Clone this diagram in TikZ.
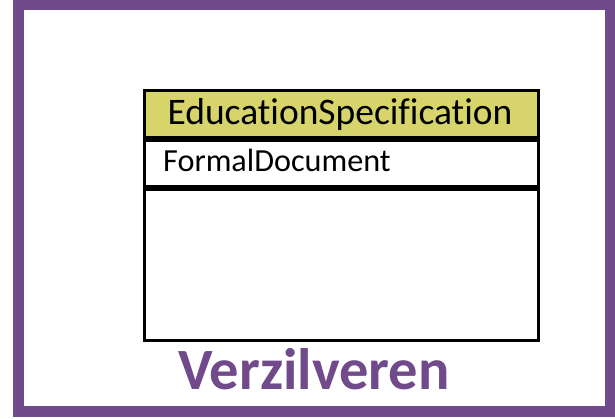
\documentclass[tikz,border=0pt]{standalone}
\usepackage{fontspec}
\setmainfont[Ligatures=NoCommon]{Carlito}
\definecolor{framepurple}{RGB}{112,74,138}
\definecolor{headyellow}{RGB}{214,212,106}
\begin{document}
\begin{tikzpicture}[x=1pt,y=-1pt,
  comp/.style={draw=black, line width=3pt, inner sep=0pt, minimum width=394pt, anchor=north west},
  sep/.style={draw=black, line width=4.5pt}]
\useasboundingbox (0,0) rectangle (615,419);
\fill[white] (0,0) rectangle (615,419);
\draw[framepurple, line width=10.5pt] (18.5,5) rectangle (610.5,411.5);
% class box
\node[comp, fill=headyellow, minimum height=47.5pt] (head) at (143,89) {};
\node[comp, fill=white, minimum height=49pt] (attr) at (143,136.5) {};
\node[comp, fill=white, minimum height=153.5pt] (ops) at (143,185.5) {};
\draw[sep] (head.south west) -- (head.south east);
\draw[sep] (attr.south west) -- (attr.south east);
\node[anchor=base, inner sep=0pt, font=\fontsize{37.5}{40}\selectfont] (title) at (340,125) {EducationSpecification};
\node[anchor=base west, inner sep=0pt, font=\fontsize{32.2}{36}\selectfont] (attrtext) at (163,172) {FormalDocument};
\node[anchor=base, inner sep=0pt, text=framepurple, font=\bfseries\fontsize{58.5}{62}\selectfont] (label) at (314,389) {Verzilveren};
\end{tikzpicture}
\end{document}
